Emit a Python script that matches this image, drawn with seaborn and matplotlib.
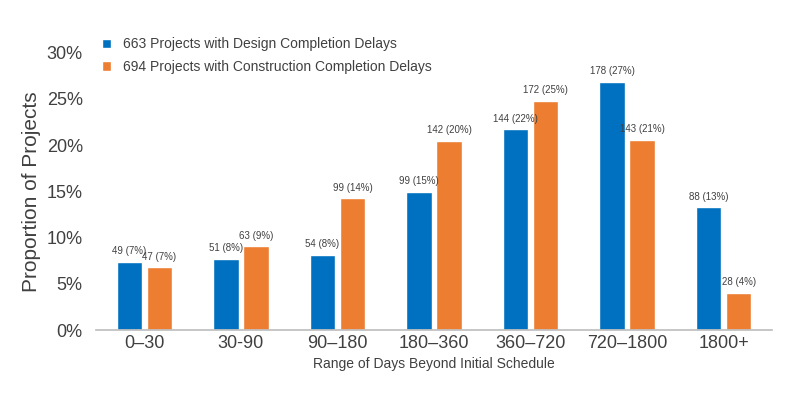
import numpy as np
import pandas as pd
import seaborn as sns
import matplotlib.pyplot as plt

ranges = ["0–30", "30-90", "90–180", "180–360", "360–720", "720–1800", "1800+"]
design_counts = [49, 51, 54, 99, 144, 178, 88]
construction_counts = [47, 63, 99, 142, 172, 143, 28]
design_label = "663 Projects with Design Completion Delays"
construction_label = "694 Projects with Construction Completion Delays"
series_order = [design_label, construction_label]

rows = []
for name, counts in [(design_label, design_counts), (construction_label, construction_counts)]:
    total = sum(counts)
    for r, c in zip(ranges, counts):
        rows.append({"range": r, "series": name, "count": c, "share": c / total})
df = pd.DataFrame(rows)

sns.set_theme(style="white")
plt.rcParams["font.family"] = ["Liberation Sans", "DejaVu Sans"]
fig, ax = plt.subplots(figsize=(8, 4.05), dpi=100)
fig.subplots_adjust(left=0.12, right=0.965, top=0.87, bottom=0.185)

sns.barplot(data=df, x="range", y="share", hue="series", hue_order=series_order,
            palette=["#0070C0", "#ED7D31"], saturation=1, width=0.62, gap=0.15, ax=ax)

for cont, name in zip(ax.containers, series_order):
    sub = df[df["series"] == name]
    for bar, (_, row) in zip(cont, sub.iterrows()):
        ax.text(bar.get_x() + bar.get_width() / 2, bar.get_height() + 0.006,
                f"{row['count']} ({row['share']*100:.0f}%)",
                ha="center", va="bottom", fontsize=7, color="#404040")

ax.set_ylim(0, 0.30)
ax.set_yticks(np.arange(0, 0.31, 0.05))
ax.set_yticklabels([f"{int(round(v*100))}%" for v in np.arange(0, 0.31, 0.05)],
                   fontsize=13, color="#404040")
ax.tick_params(axis="x", labelsize=13, colors="#404040", length=0)
ax.set_xlabel("Range of Days Beyond Initial Schedule", fontsize=10, color="#404040")
ax.set_ylabel("Proportion of Projects", fontsize=15, color="#404040")
for s in ["top", "right", "left"]:
    ax.spines[s].set_visible(False)
ax.spines["bottom"].set_color("#BFBFBF")

leg = ax.legend(loc="upper left", bbox_to_anchor=(-0.01, 1.1), frameon=False,
                fontsize=10, handlelength=0.7, handleheight=0.7, labelspacing=0.6)
for t in leg.get_texts():
    t.set_color("#404040")

fig.savefig("out.png")
